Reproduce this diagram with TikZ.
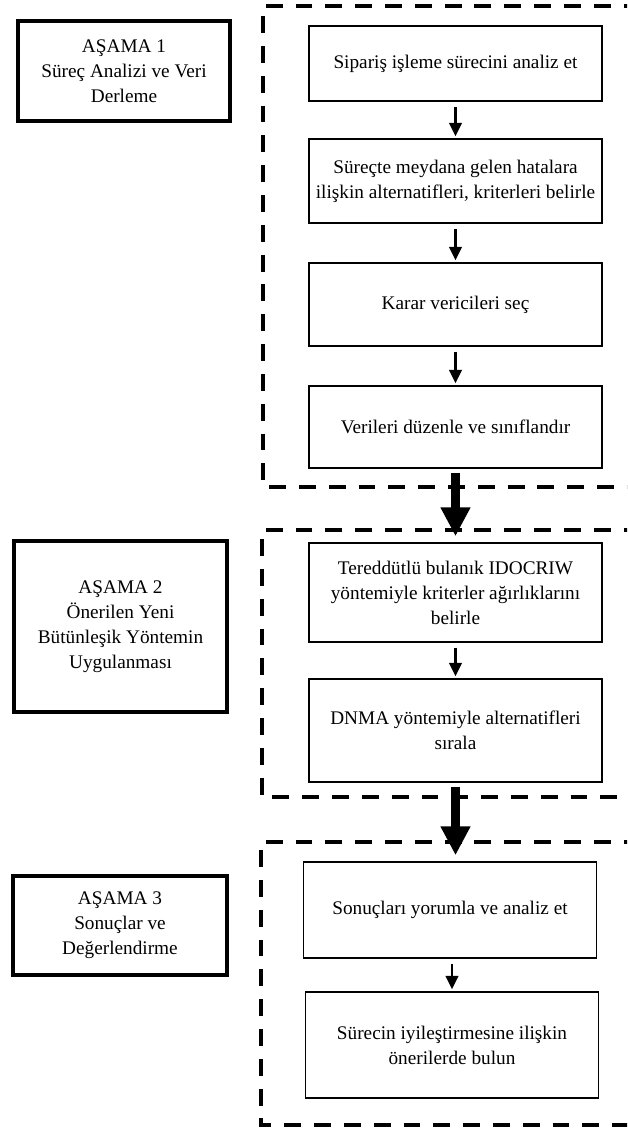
\documentclass[tikz,border=0pt]{standalone}
\usepackage{fontspec}
\setmainfont{Liberation Serif}
\usepackage{tikz}
\usetikzlibrary{
    arrows.meta,
    positioning,
    calc
}
\tikzstyle{stage} = [
    rectangle,
    draw=black,
    line width=3pt,
    minimum width=5.3cm,
    align=center,
    font=\fontsize{13.7}{17.8}\selectfont
]
\tikzstyle{step box} = [
    rectangle,
    draw=black,
    line width=1pt,
    minimum width=7.325cm,
    align=center,
    font=\fontsize{13.7}{17.8}\selectfont
]
\tikzstyle{frame} = [
    draw=black,
    line width=3pt,
    dash pattern=on 12pt off 9.2pt
]
\tikzstyle{arrow} = [
    -{Triangle[length=9.5pt,width=9pt]},
    line width=1.5pt,
    shorten <=3.5pt,
    shorten >=1.5pt
]
\tikzstyle{bigarrow} = [
    -{Triangle[length=20.6pt,width=20pt]},
    line width=7pt,
    shorten <=2.8pt,
    shorten >=4.3pt
]

\begin{document}
\begin{tikzpicture}[x=0.025cm, y=-0.025cm]
        \useasboundingbox (0,0) rectangle (627,1128);
        \clip (0,0) rectangle (627,1128);

        % Stages
        \node[stage, minimum height=2.5cm] (s1) at (124, 71) {AŞAMA 1\\Süreç Analizi ve Veri\\Derleme};
        \node[stage, minimum width=5.325cm, minimum height=4.275cm] (s2) at (120.5, 626.5) {AŞAMA 2\\Önerilen Yeni\\Bütünleşik Yöntemin\\Uygulanması};
        \node[stage, minimum width=5.35cm, minimum height=2.475cm] (s3) at (120, 925.5) {AŞAMA 3\\Sonuçlar ve\\Değerlendirme};

        % Stage 1 frame
        \draw[frame] (700, 6) -- (263, 6) -- (263, 487) -- (700, 487);
        \node[step box, minimum height=1.875cm] (a1) at (455.5, 63.5) {Sipariş işleme sürecini analiz et};
        \node[step box, minimum height=2.1cm] (a2) at (455.5, 181) {Süreçte meydana gelen hatalara\\ilişkin alternatifleri, kriterleri belirle};
        \node[step box, minimum height=2.075cm] (a3) at (455.5, 304.5) {Karar vericileri seç};
        \node[step box, minimum height=2.05cm] (a4) at (455.5, 427) {Verileri düzenle ve sınıflandır};

        % Stage 2 frame
        \draw[frame] (700, 530) -- (262, 530) -- (262, 797) -- (700, 797);
        \node[step box, minimum height=2.475cm] (b1) at (455.5, 592.5) {Tereddütlü bulanık IDOCRIW\\yöntemiyle kriterler ağırlıklarını\\belirle};
        \node[step box, minimum height=2.575cm] (b2) at (455.5, 730.5) {DNMA yöntemiyle alternatifleri\\sırala};

        % Stage 3 frame
        \draw[frame] (700, 842) -- (261, 842) -- (261, 1125) -- (700, 1125);
        \node[step box, minimum height=2.4cm] (c1) at (450, 910) {Sonuçları yorumla ve analiz et};
        \node[step box, minimum height=2.65cm] (c2) at (452, 1045) {Sürecin iyileştirmesine ilişkin\\önerilerde bulun};

        % Arrows
        \draw[arrow] (a1) -- (a2);
        \draw[arrow] (a2) -- (a3);
        \draw[arrow] (a3) -- (a4);
        \draw[arrow] (b1) -- (b2);
        \draw[arrow] (c2.north |- c1.south) -- (c2);
        \draw[bigarrow] (a4) -- (b1);
        \draw[bigarrow] (b2) -- (b2 |- c1.north);
    \end{tikzpicture}
\end{document}
